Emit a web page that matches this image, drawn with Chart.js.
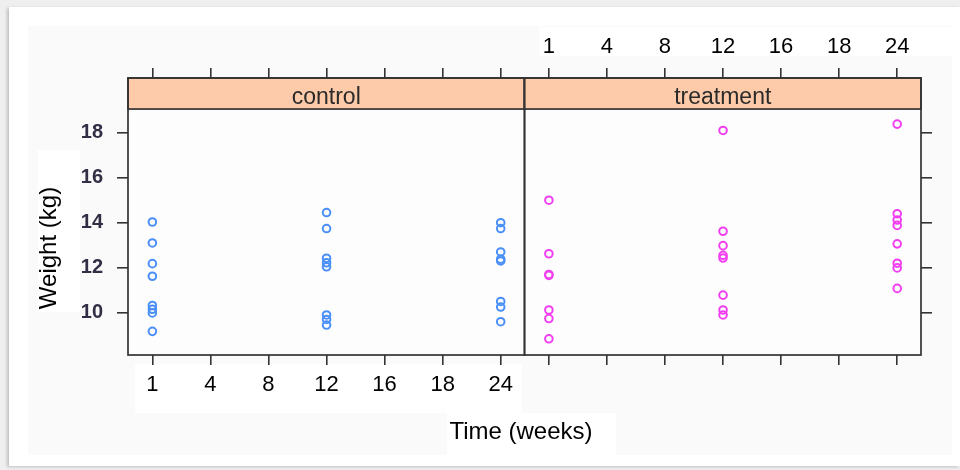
<!DOCTYPE html>
<html><head><meta charset="utf-8">
<script src="https://cdn.jsdelivr.net/npm/chart.js@4.4.0/dist/chart.umd.min.js"></script>
<style>
html,body{margin:0;padding:0;background:#efefef;width:960px;height:470px;overflow:hidden}
#card{position:absolute;left:9px;top:7px;width:951px;height:459px;background:#fff;box-shadow:-2px 1px 3px rgba(0,0,0,0.2)}
#inner{position:absolute;left:28px;top:26px;width:924px;height:429px;background:#fafafa}
#wrap{position:absolute;left:0;top:0;width:960px;height:470px}
</style></head><body>
<div id="card"></div><div id="inner"></div>
<div id="wrap"><canvas id="c" width="960" height="470"></canvas></div>
<script>
// ---- data ----
const categories = ['1','4','8','12','16','18','24'];
const panels = ['control','treatment'];
const yTicks = [10,12,14,16,18];
const xTitle = 'Time (weeks)';
const yTitle = 'Weight (kg)';
const controlWeek1   = [14.03,13.10,12.18,11.62,10.32,10.15,9.99,9.17];
const controlWeek12  = [14.45,13.74,12.42,12.22,12.04,9.90,9.70,9.45];
const controlWeek24  = [14.00,13.74,12.70,12.38,12.30,10.50,10.25,9.60];
const treatmentWeek1  = [15.00,12.62,11.70,11.66,10.12,9.74,8.84];
const treatmentWeek12 = [18.10,13.62,12.98,12.55,12.43,10.78,10.12,9.90];
const treatmentWeek24 = [18.38,14.40,14.12,13.88,13.06,12.20,11.99,11.08];
const controlSeries   = {'1':controlWeek1,'12':controlWeek12,'24':controlWeek24};
const treatmentSeries = {'1':treatmentWeek1,'12':treatmentWeek12,'24':treatmentWeek24};

// ---- layout constants (category units) ----
const X_MIN = -0.42, PANEL_W = 6.83, X_MAX = X_MIN + 2*PANEL_W;
const Y_MIN = 8.12, Y_PANEL_TOP = 19.05, Y_MAX = 20.43;

function toPoints(series, panelIdx){
  const pts = [];
  Object.keys(series).forEach(cat=>{
    const i = categories.indexOf(cat);
    series[cat].forEach(v=>pts.push({x: i + panelIdx*PANEL_W, y: v}));
  });
  return pts;
}
const allXTicks = categories.map((c,i)=>i).concat(categories.map((c,i)=>i+PANEL_W));

const tickFont = {family:"'Liberation Sans', Arial, sans-serif", size:22};
const gridCfg = {display:true, drawOnChartArea:false, drawTicks:true, tickLength:10, color:'#333', lineWidth:1.6};

const lattice = {
  id:'lattice',
  beforeDraw(chart){
    const {ctx, chartArea:a} = chart;
    const xs = chart.scales.x;
    const div = xs.getPixelForValue(X_MIN+PANEL_W);
    ctx.save();
    ctx.fillStyle = '#ffffff';
    ctx.fillRect(a.left+7, a.bottom+9, div-3-(a.left+7), 49);      // bottom tick labels box
    ctx.fillRect(div+15, 27, 952-(div+15), 29);                    // top tick labels box
    ctx.fillRect(447, a.bottom+58, 169, 42);                       // x title box
    ctx.fillRect(38, 150, 42, 162);                                // y title box
    ctx.fillStyle = '#fdfdfd';
    ctx.fillRect(a.left, a.top, a.right-a.left, a.bottom-a.top);
    ctx.restore();
  },
  beforeDatasetsDraw(chart){
    const {ctx, chartArea:a} = chart;
    const xs = chart.scales.x, ys = chart.scales.y;
    const div = xs.getPixelForValue(X_MIN+PANEL_W);
    const sb = ys.getPixelForValue(Y_PANEL_TOP);
    const bounds = [[a.left, div],[div, a.right]];
    ctx.save();
    bounds.forEach(([l,r],k)=>{
      ctx.fillStyle = '#fdcba9';
      ctx.fillRect(l, a.top, r-l, sb-a.top);
      ctx.strokeStyle = '#333'; ctx.lineWidth = 1.7;
      ctx.strokeRect(l, a.top, r-l, sb-a.top);
      ctx.strokeRect(l, a.top, r-l, a.bottom-a.top);
      ctx.fillStyle = '#2a2a2a';
      ctx.font = "23px 'Liberation Sans', Arial, sans-serif";
      ctx.textAlign = 'center'; ctx.textBaseline = 'alphabetic';
      ctx.fillText(panels[k], (l+r)/2, sb-5);
    });
    // axis titles
    ctx.fillStyle = '#000';
    ctx.font = "24px 'Liberation Sans', Arial, sans-serif";
    ctx.textAlign = 'center'; ctx.textBaseline = 'middle';
    ctx.fillText(xTitle, 521, a.bottom+77);
    ctx.translate(49, 248); ctx.rotate(-Math.PI/2);
    ctx.fillText(yTitle, 0, 0);
    ctx.restore();
  }
};

new Chart(document.getElementById('c'), {
  type:'scatter',
  data:{datasets:[
    {label:panels[0], data:toPoints(controlSeries,0), borderColor:'#4a8ff7', backgroundColor:'rgba(0,0,0,0)', pointRadius:3.8, pointBorderWidth:2, pointHoverRadius:3.8},
    {label:panels[1], data:toPoints(treatmentSeries,1), borderColor:'#f03ef0', backgroundColor:'rgba(0,0,0,0)', pointRadius:3.8, pointBorderWidth:2, pointHoverRadius:3.8}
  ]},
  options:{
    responsive:false, animation:false, events:[],
    layout:{padding:0},
    plugins:{legend:{display:false}, tooltip:{enabled:false}},
    scales:{
      x:{type:'linear', position:'bottom', min:X_MIN, max:X_MAX,
         afterBuildTicks(s){ s.ticks = allXTicks.map(v=>({value:v})); },
         afterFit(s){ s.height = 115; },
         grid:gridCfg, border:{display:false},
         ticks:{autoSkip:false, maxRotation:0, padding:7, color:'#000', font:tickFont,
                callback(v,i){ return i < categories.length ? categories[i] : ''; }}},
      x2:{type:'linear', position:'top', min:X_MIN, max:X_MAX,
         afterBuildTicks(s){ s.ticks = allXTicks.map(v=>({value:v})); },
         afterFit(s){ s.height = 78; },
         grid:gridCfg, border:{display:false},
         ticks:{autoSkip:false, maxRotation:0, padding:8, color:'#000', font:tickFont,
                callback(v,i){ return i >= categories.length ? categories[i-categories.length] : ''; }}},
      y:{type:'linear', position:'left', min:Y_MIN, max:Y_MAX,
         afterBuildTicks(s){ s.ticks = yTicks.map(v=>({value:v})); },
         afterFit(s){ s.width = 128; },
         grid:Object.assign({}, gridCfg, {tickLength:11}), border:{display:false},
         ticks:{padding:14, color:'#332e45', font:{family:"'Liberation Sans', Arial, sans-serif", size:20, weight:'bold'}}},
      y2:{type:'linear', position:'right', min:Y_MIN, max:Y_MAX,
         afterBuildTicks(s){ s.ticks = yTicks.map(v=>({value:v})); },
         afterFit(s){ s.width = 39; },
         grid:Object.assign({}, gridCfg, {tickLength:11}), border:{display:false},
         ticks:{padding:0, callback(){ return ''; }}}
    }
  },
  plugins:[lattice]
});
</script>
</body></html>
